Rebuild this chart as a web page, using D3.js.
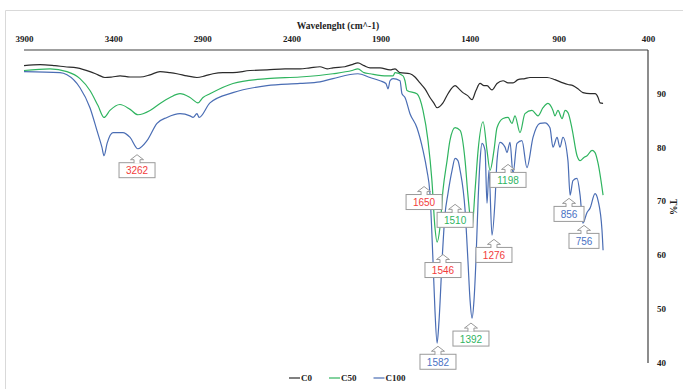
<!DOCTYPE html>
<html>
<head>
<meta charset="utf-8">
<script src="https://cdn.jsdelivr.net/npm/d3@7"></script>
<style>
  body { margin: 0; background: #fff; }
  svg { display: block; }
</style>
</head>
<body>
<script>
// spectra: [wavenumber cm-1, %T]
const c0 = [[3900,95.1],[3810,95.3],[3726,95.1],[3670,94.9],[3603,94.7],[3530,94.0],[3485,93.4],[3446,92.9],[3406,93.0],[3361,93.2],[3305,93.0],[3249,93.0],[3193,93.4],[3137,94.0],[3081,93.8],[3042,93.6],[2986,93.2],[2930,92.9],[2885,93.2],[2840,93.6],[2784,93.8],[2728,93.8],[2632,94.2],[2537,94.3],[2436,94.5],[2352,94.5],[2296,94.7],[2240,94.9],[2200,94.5],[2167,94.7],[2100,94.9],[2060,95.3],[2027,95.6],[1993,95.1],[1959,94.7],[1903,94.7],[1847,94.3],[1819,94.5],[1791,93.8],[1735,93.6],[1707,93.0],[1679,91.9],[1651,90.8],[1623,89.2],[1600,88.1],[1583,87.3],[1550,88.2],[1522,89.9],[1482,91.4],[1460,90.8],[1438,90.1],[1410,89.5],[1387,88.8],[1365,90.5],[1342,91.8],[1320,91.4],[1303,91.4],[1275,90.6],[1247,91.8],[1213,92.3],[1185,91.9],[1157,91.9],[1129,92.5],[1090,92.7],[1062,92.9],[1006,92.9],[966,92.9],[922,92.5],[877,91.9],[849,91.6],[821,91.4],[793,90.8],[765,90.1],[725,89.9],[697,89.9],[680,89.2],[669,88.2],[652,88.1]];

const c50 = [[3900,94.2],[3754,94.5],[3659,94.0],[3586,92.7],[3530,90.5],[3485,87.7],[3451,85.5],[3418,86.8],[3362,87.9],[3305,87.0],[3261,86.0],[3193,86.8],[3137,88.1],[3081,89.2],[3025,89.9],[2969,89.2],[2924,88.2],[2896,89.2],[2857,89.9],[2728,91.8],[2537,92.7],[2352,93.0],[2167,93.6],[2060,94.2],[2027,94.5],[1993,93.8],[1959,93.6],[1864,93.2],[1830,93.2],[1819,93.8],[1774,93.2],[1763,92.3],[1752,90.5],[1696,89.9],[1662,86.8],[1634,81.2],[1612,73.8],[1595,65.1],[1583,62.4],[1567,65.1],[1550,72.0],[1527,77.5],[1511,81.2],[1482,83.6],[1454,83.1],[1426,77.5],[1410,71.1],[1387,65.1],[1370,72.0],[1353,79.4],[1325,84.7],[1303,79.4],[1286,75.7],[1264,79.4],[1247,83.6],[1213,85.3],[1185,85.5],[1163,84.4],[1146,85.8],[1118,82.7],[1090,86.2],[1051,86.8],[1017,85.8],[989,87.3],[961,88.1],[933,86.8],[922,85.8],[905,86.8],[882,85.3],[865,86.8],[849,86.4],[826,83.4],[798,78.4],[781,77.5],[759,78.1],[742,78.4],[714,79.4],[697,79.0],[680,77.0],[652,71.1]];

const c100 = [[3900,94.0],[3698,93.8],[3659,93.4],[3586,91.0],[3530,87.3],[3491,83.1],[3463,80.0],[3451,78.4],[3434,80.7],[3401,82.7],[3345,82.7],[3305,81.8],[3261,79.7],[3210,81.2],[3154,84.4],[3098,85.5],[3025,86.2],[2969,85.8],[2952,85.5],[2930,86.2],[2918,85.5],[2857,88.2],[2728,90.1],[2537,91.4],[2352,91.8],[2240,92.1],[2167,92.7],[2027,93.6],[1959,92.9],[1903,92.3],[1870,91.8],[1858,90.8],[1847,92.3],[1830,92.7],[1791,92.3],[1780,89.9],[1763,89.2],[1735,86.2],[1696,83.6],[1662,79.4],[1640,75.7],[1623,71.4],[1606,59.0],[1595,49.8],[1583,43.7],[1572,47.9],[1555,59.0],[1539,67.4],[1522,71.4],[1499,75.7],[1482,77.9],[1466,77.5],[1454,75.7],[1426,68.3],[1410,59.0],[1398,51.6],[1387,48.3],[1376,51.6],[1365,59.0],[1353,70.1],[1342,77.5],[1331,80.7],[1314,79.4],[1303,69.6],[1292,75.7],[1275,63.7],[1258,70.1],[1247,77.5],[1230,80.9],[1202,80.0],[1191,79.0],[1174,80.9],[1157,75.1],[1135,80.7],[1107,81.2],[1079,76.2],[1045,81.8],[1006,84.4],[978,84.5],[950,83.6],[933,80.0],[910,81.8],[894,80.0],[877,81.8],[849,77.5],[837,71.1],[821,73.8],[798,74.2],[781,71.1],[765,65.9],[742,67.9],[725,68.7],[697,71.4],[680,70.1],[658,64.6],[652,60.9]];

const seriesNames = ['C0', 'C50', 'C100'];
const seriesColors = ['#2b2b2b', '#2fb45f', '#4a6db4'];

const wnTicks = [3900, 3400, 2900, 2400, 1900, 1400, 900, 400];
const tTicks = [40, 50, 60, 70, 80, 90];

// peak callouts: label, arrow tip (wavenumber, %T), text colour
const peakLabels = ['3262', '1650', '1510', '1546', '1276', '1392', '1198', '1582', '856', '756'];
const peakWn = [3266, 1656, 1482, 1550, 1264, 1393, 1185, 1578, 843, 759];
const peakT = [78.6, 72.7, 69.4, 60.1, 62.9, 47.4, 76.8, 43.1, 70.5, 65.5];
const peakColors = ['#f23b3b', '#f23b3b', '#2fb45f', '#f23b3b', '#f23b3b', '#2fb45f', '#2fb45f', '#4a72c4', '#4a72c4', '#4a72c4'];

const W = 683, H = 389;
const svg = d3.select('body').append('svg').attr('width', W).attr('height', H);

// faint outer frame of the chart object
svg.append('path')
  .attr('d', 'M5.5,' + H + 'V10.5H' + W)
  .attr('fill', 'none')
  .attr('stroke', '#d9d9d9')
  .attr('stroke-width', 1);

const x = d3.scaleLinear().domain([3900, 400]).range([24, 648]);
const y = d3.scaleLinear().domain([40, 98]).range([363, 50]);

const serif = '"Liberation Serif", "Times New Roman", serif';

// top axis
const xAxis = svg.append('g')
  .attr('transform', 'translate(0,50)')
  .call(d3.axisTop(x).tickValues(wnTicks).tickSize(0).tickPadding(8).tickFormat(d3.format('d')));
xAxis.select('.domain').attr('stroke', '#404040').attr('stroke-width', 1.2).attr('d', 'M24,0H648');
xAxis.selectAll('text').attr('font-family', serif).attr('font-weight', 'bold').attr('font-size', 9).attr('fill', '#222');

// right axis
const yAxis = svg.append('g')
  .attr('transform', 'translate(648,0)')
  .call(d3.axisRight(y).tickValues(tTicks).tickSize(0).tickPadding(9));
yAxis.select('.domain').attr('stroke', '#404040').attr('stroke-width', 1.2).attr('d', 'M0,50V363');
yAxis.selectAll('text').attr('font-family', serif).attr('font-weight', 'bold').attr('font-size', 9).attr('fill', '#222');

svg.append('text')
  .attr('x', 338).attr('y', 29)
  .attr('text-anchor', 'middle')
  .attr('font-family', serif).attr('font-weight', 'bold').attr('font-size', 9.5)
  .attr('fill', '#222')
  .text('Wavelenght (cm^-1)');

svg.append('text')
  .attr('transform', 'translate(670,207) rotate(90)')
  .attr('text-anchor', 'middle')
  .attr('font-family', serif).attr('font-weight', 'bold').attr('font-size', 9.5)
  .attr('fill', '#222')
  .text('T%');

// spectra
const line = d3.line()
  .x(d => x(d[0]))
  .y(d => y(d[1]))
  .curve(d3.curveMonotoneX);

[c0, c50, c100].forEach((s, i) => {
  svg.append('path')
    .datum(s)
    .attr('fill', 'none')
    .attr('stroke', seriesColors[i])
    .attr('stroke-width', 1.2)
    .attr('stroke-linejoin', 'round')
    .attr('d', line);
});

// callouts
const callouts = svg.append('g');
peakLabels.forEach((lab, i) => {
  const cx = x(peakWn[i]);
  const tip = y(peakT[i]);
  const top = tip + 8;
  const bw = lab.length > 3 ? 36 : 30;
  const g = callouts.append('g');
  g.append('rect')
    .attr('x', cx - bw / 2).attr('y', top)
    .attr('width', bw).attr('height', 15)
    .attr('fill', '#fff')
    .attr('stroke', '#9a9a9a').attr('stroke-width', 1);
  g.append('path')
    .attr('d', 'M' + (cx - 3) + ',' + (top + 0.5) + 'V' + (top - 3) + 'H' + (cx - 6.5) +
      'L' + cx + ',' + (top - 8) + 'L' + (cx + 6.5) + ',' + (top - 3) + 'H' + (cx + 3) + 'V' + (top + 0.5))
    .attr('fill', '#fff')
    .attr('stroke', '#9a9a9a').attr('stroke-width', 1);
  g.append('text')
    .attr('x', cx).attr('y', top + 11.5)
    .attr('text-anchor', 'middle')
    .attr('font-family', '"Liberation Sans", Arial, sans-serif')
    .attr('font-size', 10)
    .attr('fill', peakColors[i])
    .text(lab);
});

// legend
const legend = svg.append('g').attr('transform', 'translate(0,381)');
let lx = 289;
seriesNames.forEach((name, i) => {
  legend.append('line')
    .attr('x1', lx).attr('x2', lx + 11)
    .attr('y1', -3).attr('y2', -3)
    .attr('stroke', seriesColors[i]).attr('stroke-width', 1.2);
  const t = legend.append('text')
    .attr('x', lx + 12).attr('y', 0)
    .attr('font-family', serif).attr('font-weight', 'bold').attr('font-size', 9)
    .attr('fill', '#222')
    .text(name);
  lx += 12 + t.node().getComputedTextLength() + 17;
});
</script>
</body>
</html>
